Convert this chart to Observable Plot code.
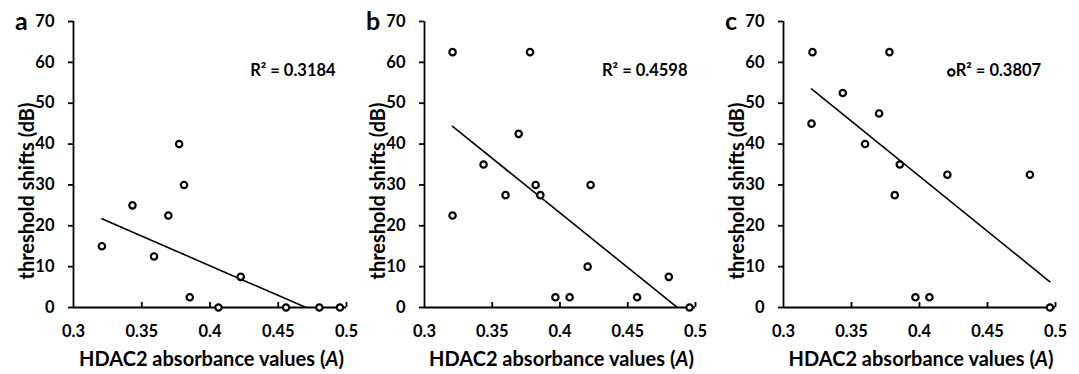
<!DOCTYPE html>
<html>
<head>
<meta charset="utf-8">
<script src="https://cdn.jsdelivr.net/npm/d3@7"></script>
<script src="https://cdn.jsdelivr.net/npm/@observablehq/plot@0.6"></script>
<style>
  html, body { margin: 0; padding: 0; background: #fff; }
  #wrap { position: relative; width: 1079px; height: 374px; overflow: hidden; font-family: Lato, "Open Sans", sans-serif; font-weight: 700; color: #000; }
  .panel { position: absolute; top: 0; }
  .letter { position: absolute; font-size: 25px; line-height: 1; }
  .xtitle { position: absolute; font-size: 20px; white-space: nowrap; transform: translate(-50%, -50%); }
  .ytitle { position: absolute; font-size: 20px; white-space: nowrap; transform: translate(-50%, -50%) rotate(-90deg); }
</style>
</head>
<body>
<div id="wrap"></div>
<script>
// ---- data ----
const panelLetters = ["a", "b", "c"];
const xA = [0.3208, 0.3432, 0.359, 0.3695, 0.3774, 0.381, 0.3852, 0.4062, 0.4225, 0.4557, 0.4801, 0.4952];
const yA = [15, 25, 12.5, 22.5, 40, 30, 2.5, 0, 7.5, 0, 0, 0];
const xB = [0.3207, 0.3207, 0.3436, 0.3598, 0.3695, 0.3779, 0.382, 0.3855, 0.3966, 0.4071, 0.4204, 0.4226, 0.4569, 0.4803, 0.4956];
const yB = [62.5, 22.5, 35, 27.5, 42.5, 62.5, 30, 27.5, 2.5, 2.5, 10, 30, 2.5, 7.5, 0];
const xC = [0.3213, 0.3206, 0.3436, 0.36, 0.3703, 0.3779, 0.3818, 0.3855, 0.397, 0.4073, 0.4205, 0.4234, 0.4812, 0.4959];
const yC = [62.5, 45, 52.5, 40, 47.5, 62.5, 27.5, 35, 2.5, 2.5, 32.5, 57.5, 32.5, 0];
const rSquared = ["R² = 0.3184", "R² = 0.4598", "R² = 0.3807"];
const rSquaredX = [0.4294, 0.431, 0.4266];
const rSquaredY = [58, 58, 58];
// linear trend line: value at min x and at max x of each panel
const trendStartY = [21.7, 44.35, 53.5];
const trendEndY = [-3.6, -2.4, 6.3];
const xTicks = [0.3, 0.35, 0.4, 0.45, 0.5];
const xTickLabels = ["0.3", "0.35", "0.4", "0.45", "0.5"];
const yTicks = [0, 10, 20, 30, 40, 50, 60, 70];
const xTitle = "HDAC2 absorbance values (<i>A</i>)";
const yTitle = "threshold shifts (dB)";

// ---- layout ----
const panelLeft = [0, 351, 710];
const panelMarginRight = [14, 16, 15];
const W = 360, H = 374, ML = 73, MT = 21, MB = 67;

const xs = [xA, xB, xC];
const ys = [yA, yB, yC];
const wrap = document.getElementById("wrap");

for (let i = 0; i < 3; i++) {
  const pts = xs[i].map((x, j) => ({x, y: ys[i][j]}));
  const xmin = d3.min(xs[i]), xmax = d3.max(xs[i]);
  const trend = [{x: xmin, y: trendStartY[i]}, {x: xmax, y: trendEndY[i]}];
  const frameH = H - MT - MB;
  const chart = Plot.plot({
    width: W,
    height: H,
    marginLeft: ML,
    marginRight: panelMarginRight[i],
    marginTop: MT,
    marginBottom: MB,
    style: {fontFamily: "Lato, 'Open Sans', sans-serif", fontSize: "16.5px", fontWeight: "700", color: "#000", background: "transparent", overflow: "visible"},
    x: {domain: [0.3, 0.5]},
    y: {domain: [0, 70]},
    marks: [
      Plot.axisY({ticks: yTicks, tickSize: 5, tickPadding: 14, label: null, strokeWidth: 1.8}),
      Plot.axisX({ticks: xTicks, tickSize: 0, tickPadding: 18, tickFormat: (d) => xTickLabels[xTicks.indexOf(d)], label: null}),
      Plot.tickX(xTicks.slice(1), {x: (d) => d, insetTop: frameH - 5, stroke: "#000", strokeWidth: 1.8}),
      Plot.ruleX([0.3], {y1: 0, y2: 70, stroke: "#000", strokeWidth: 1.8}),
      Plot.ruleY([0], {x1: 0.3, x2: 0.5, stroke: "#000", strokeWidth: 1.8}),
      Plot.line(trend, {x: "x", y: "y", stroke: "#000", strokeWidth: 1.6, clip: true}),
      Plot.dot(pts, {x: "x", y: "y", r: 3.2, stroke: "#000", strokeWidth: 2.2, fill: "#fff"}),
      Plot.text([rSquared[i]], {x: rSquaredX[i], y: rSquaredY[i], text: (d) => d, textAnchor: "start", fontSize: 16.5, fontWeight: 700, fill: "#000"})
    ]
  });
  const holder = document.createElement("div");
  holder.className = "panel";
  holder.style.left = panelLeft[i] + "px";
  holder.appendChild(chart);
  wrap.appendChild(holder);

  const axisX0 = panelLeft[i] + ML;
  const axisX1 = panelLeft[i] + W - panelMarginRight[i];

  const letter = document.createElement("div");
  letter.className = "letter";
  letter.textContent = panelLetters[i];
  letter.style.left = (axisX0 - 58) + "px";
  letter.style.top = "8px";
  wrap.appendChild(letter);

  const xt = document.createElement("div");
  xt.className = "xtitle";
  xt.innerHTML = xTitle;
  xt.style.left = ((axisX0 + axisX1) / 2 + 2) + "px";
  xt.style.top = "358px";
  wrap.appendChild(xt);

  const yt = document.createElement("div");
  yt.className = "ytitle";
  yt.textContent = yTitle;
  yt.style.left = (axisX0 - 47) + "px";
  yt.style.top = "191px";
  wrap.appendChild(yt);
}
</script>
</body>
</html>
